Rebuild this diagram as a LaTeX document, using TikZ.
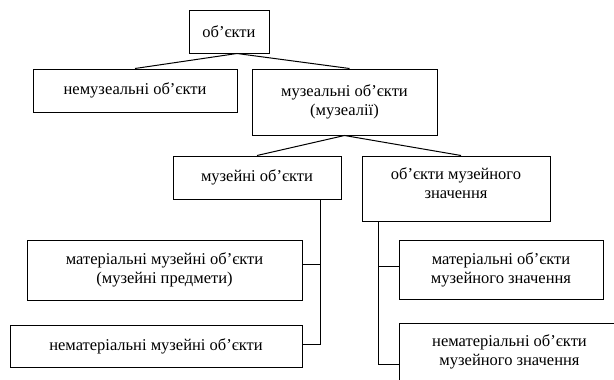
\documentclass[tikz,border=0pt]{standalone}
\usepackage{fontspec}
\setmainfont{Liberation Serif}
\usetikzlibrary{calc}

\tikzset{
  box/.style={draw, line width=1pt, align=center, inner sep=0pt,
    font=\fontsize{16.5}{19}\selectfont},
  link/.style={line width=1pt}
}

\begin{document}
\begin{tikzpicture}[x=1pt, y=-1pt]
\clip (0,0) rectangle (614,380);

\node[box, minimum width=80pt, minimum height=43pt] (obj) at (229, 31.5) {об’єкти};
\node[box, minimum width=204pt, minimum height=43pt] (nonmus) at (135, 90.5) {немузеальні об’єкти};
\node[box, minimum width=185pt, minimum height=66pt] (mus) at (344.5, 102) {музеальні об’єкти\\(музеалії)};

\node[box, minimum width=168pt, minimum height=43pt] (musobj) at (257, 177.5) {музейні об’єкти};
\node[box, minimum width=188pt, minimum height=65pt] (objval) at (456, 188.5) {об’єкти музейного\\значення\\[-9pt]\mbox{}};

\node[box, minimum width=275pt, minimum height=60pt] (matmus) at (164.5, 270) {матеріальні музейні об’єкти\\(музейні предмети)};
\node[box, minimum width=292pt, minimum height=42pt] (nonmatmus) at (156, 346) {нематеріальні музейні об’єкти};

\node[box, minimum width=204pt, minimum height=59pt] (matval) at (501, 269.5) {матеріальні об’єкти\\музейного значення};
\node[box, minimum width=221pt, minimum height=58pt] (nonmatval) at (509.5, 352) {нематеріальні об’єкти\\музейного значення};

% links
\coordinate (apex) at ($(obj.south)+(8,0)$);
\draw[link] (nonmus.north) -- (apex) -- ($(mus.north)+(5,0)$);
\draw[link] (musobj.north) -- (mus.south) -- ($(objval.north)+(5,0)$);

\coordinate (spineA) at ($(musobj.south east)+(-21,0)$);
\draw[link] (spineA) |- ($(nonmatmus.east)+(0,-2)$);
\draw[link] ($(matmus.east)+(0,-6)$) -- ++(17,0);

\coordinate (spineB) at ($(objval.south west)+(17,0)$);
\coordinate (stubB) at ($(matval.west)+(0,-3)$);
\draw[link] (spineB) |- ($(nonmatval.west)+(0,12)$);
\draw[link] (stubB) -- (spineB |- stubB);
\end{tikzpicture}
\end{document}
